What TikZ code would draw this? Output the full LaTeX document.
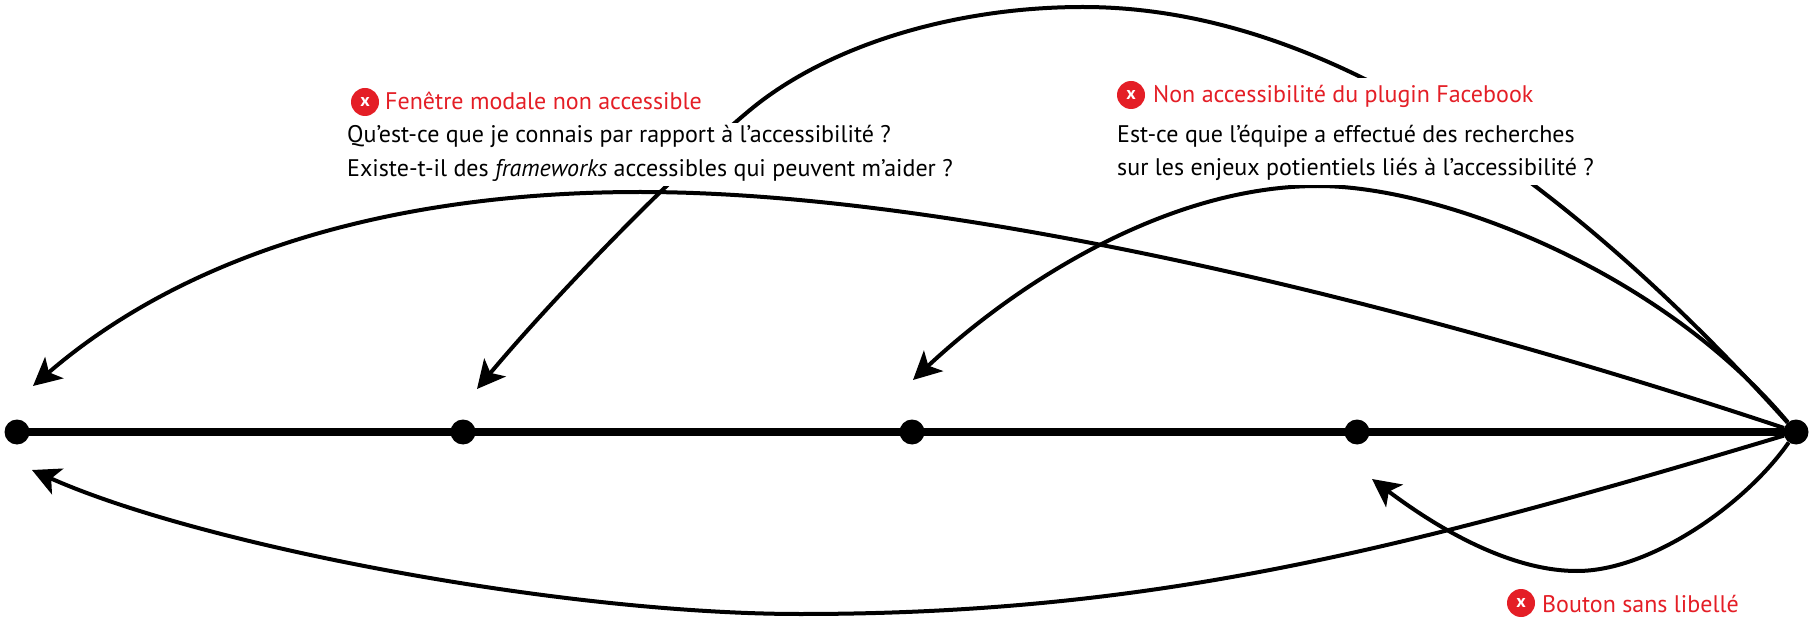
\documentclass[tikz,border=0pt]{standalone}
\usepackage{fontspec}
\setmainfont{PT Sans}
\usetikzlibrary{arrows.meta,fit}
\definecolor{errred}{RGB}{228,30,38}
\pgfdeclarelayer{bg}
\pgfdeclarelayer{mask}
\pgfsetlayers{bg,mask,main}
\begin{document}
\begin{tikzpicture}[x=1pt,y=-1pt,
  dot/.style={circle,fill=black,inner sep=0pt,minimum size=25pt},
  arc/.style={line width=4pt,-{Stealth[length=28pt,width=28pt,inset=7pt]}},
  txt/.style={anchor=base west,inner sep=0pt,font=\fontsize{24}{28}\selectfont,text height=17pt,text depth=6pt},
  ttl/.style={txt,text=errred},
  xmark/.style={circle,fill=errred,inner sep=0pt,minimum size=28pt,text=white,font=\fontsize{18}{18}\selectfont\bfseries},
  masking/.style={fill=white,inner sep=3pt}]
\useasboundingbox (0,0) rectangle (1816,620);

% timeline
\node[dot] (d1) at (17,432) {};
\node[dot] (d2) at (463,432) {};
\node[dot] (d3) at (912,432) {};
\node[dot] (d4) at (1357,432) {};
\node[dot] (d5) at (1796,432) {};
\draw[line width=7.5pt] (d1.center) -- (d5.center);

% arrow end points
\coordinate (t1) at (477,389);
\coordinate (t2) at (33,386);
\coordinate (t3) at (913,380);
\coordinate (t4) at (32,470);
\coordinate (t5) at (1372,479);

% labels
\node[xmark] (c1) at (365,102) {x};
\node[ttl] (h1) at (385,110) {Fenêtre modale non accessible};
\node[txt] (q1a) at (347,143) {Qu’est-ce que je connais par rapport à l’accessibilité ?};
\node[txt] (q1b) at (347,177) {Existe-t-il des \textit{frameworks} accessibles qui peuvent m’aider ?};

\node[xmark] (c2) at (1131,95) {x};
\node[ttl] (h2) at (1153,103) {Non accessibilité du plugin Facebook};
\node[txt] (q2a) at (1117,143) {Est-ce que l’équipe a effectué des recherches};
\node[txt] (q2b) at (1117,176) {sur les enjeux potientiels liés à l’accessibilité ?};

\node[xmark] (c3) at (1521,603) {x};
\node[ttl,text depth=0pt] (h3) at (1542,612) {Bouton sans libellé};

\begin{pgfonlayer}{mask}
\node[masking,fit=(q1a)(q1b)] (m1) {};
\node[masking,fit=(c2)(h2)(q2a)(q2b)] (m2) {};
\end{pgfonlayer}

\begin{pgfonlayer}{bg}
\draw[arc] (d5) .. controls (1560,170) and (1320,7) .. (1083,7)
  .. controls (953,7) and (827,46) .. (750,110)
  .. controls (673,174) and (554,297) .. (t1);
\draw[arc] (d5) .. controls (1400,300) and (950,192) .. (640,192)
  .. controls (390,192) and (185,255) .. (t2);
\draw[arc] (d5) .. controls (1660,270) and (1440,186) .. (1318,186)
  .. controls (1170,186) and (1020,280) .. (t3);
\draw[arc] (d5) .. controls (1396,552) and (1150,614) .. (800,614)
  .. controls (560,614) and (200,545) .. (t4);
\draw[arc] (d5) .. controls (1745,505) and (1650,571) .. (1577,571)
  .. controls (1500,571) and (1420,515) .. (t5);
\end{pgfonlayer}
\end{tikzpicture}
\end{document}
